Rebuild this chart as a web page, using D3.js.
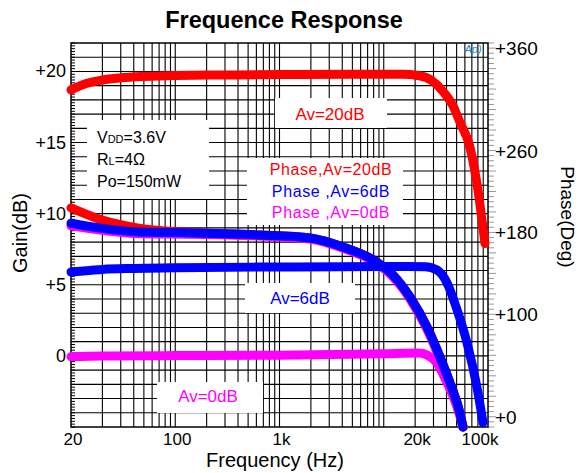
<!DOCTYPE html>
<html>
<head>
<meta charset="utf-8">
<script src="https://cdn.jsdelivr.net/npm/d3@7"></script>
<style>
  body { margin: 0; background: #fff; }
  svg { font-family: "Liberation Sans", Arial, sans-serif; }
</style>
</head>
<body>
<svg id="chart" width="580" height="473"></svg>
<script>
// frequency axis runs over 4 decades, the picture labels the left edge "20"
const freqTicks = [10, 100, 1000, 20000, 100000]
const freqTickLabels = ['20', '100', '1k', '20k', '100k']
const gainTicks = [20, 15, 10, 5, 0]
const gainTickLabels = ['+20', '+15', '+10', '+5', '0']
const phaseTicks = [360, 260, 180, 100, 0]
const phaseTickLabels = ['+360', '+260', '+180', '+100', '+0']

// gain curves (Hz, dB)
const redGainF = [10, 14, 20, 30, 50, 100, 300, 1000, 5000, 15000, 22000, 29000, 37000, 46000, 54000, 67000, 78000, 93500]
const redGainDb = [18.7, 19.15, 19.4, 19.55, 19.65, 19.72, 19.75, 19.78, 19.8, 19.8, 19.7, 19.35, 18.6, 17.6, 16.4, 14.7, 12.2, 7.9]
const blueGainF = [10, 15, 20, 40, 100, 1000, 10000, 25000, 32400, 40500, 50500, 63000, 78300, 89600]
const blueGainDb = [5.9, 6.0, 6.08, 6.15, 6.2, 6.25, 6.28, 6.27, 6.04, 5.13, 3.23, 0.9, -2.19, -4.7]
const magGainF = [10, 20, 100, 1000, 10000, 22000, 26000, 32400, 40500, 50500, 58000]
const magGainDb = [-0.05, 0.0, 0.02, 0.05, 0.15, 0.2, 0.06, -0.5, -1.9, -3.6, -5.0]

// phase curves (Hz, deg)
const phaseF = [10, 20, 46, 148, 650, 1960, 4070, 8610, 12270, 17850, 26000, 34650, 43250, 53800, 57500]
const redPhase = [204, 192, 184, 180, 177.5, 174.6, 165.8, 151, 138.4, 117, 87.7, 58.4, 33, 3.7, -10]
const bluePhase = [189, 184, 180.4, 179.5, 177.5, 174.6, 165.8, 151, 138.4, 117, 87.7, 58.4, 33, 3.7, -10]
const magPhase = [186.5, 182, 178.8, 178.3, 176.5, 173.5, 164.5, 149.5, 136.5, 115, 85.5, 56, 30.5, 1.5, -10]

const svg = d3.select('#chart')
const pLeft = 71, pRight = 488, pTop = 43, pBottom = 427

const x = d3.scaleLog().domain([10, 100000]).range([pLeft, pRight])
const yGain = d3.scaleLinear().domain([-5, 22]).range([pBottom, pTop])
const yPhase = d3.scaleLinear().domain([-10, 365]).range([pBottom, pTop])

// title
svg.append('text').attr('x', 284).attr('y', 28).attr('text-anchor', 'middle')
  .style('font-size', '23.5px').style('font-weight', 'bold').text('Frequence Response')

// grid
const grid = svg.append('g')
const vLines = []
for (let dec = 10; dec < 100000; dec *= 10) {
  for (let k = 1; k < 10; k++) vLines.push(dec * k)
}
grid.selectAll('line.v').data(vLines.filter(f => f > 10)).enter().append('line')
  .attr('x1', d => x(d)).attr('x2', d => x(d)).attr('y1', pTop).attr('y2', pBottom)
  .attr('stroke', '#000').attr('stroke-width', 1.1)
grid.selectAll('line.h').data(d3.range(-4, 22, 1)).enter().append('line')
  .attr('x1', pLeft).attr('x2', pRight).attr('y1', d => yGain(d)).attr('y2', d => yGain(d))
  .attr('stroke', '#000').attr('stroke-width', 1.1)

// left minor ticks (inside)
svg.append('g').selectAll('line').data(d3.range(-5, 22.01, 0.2)).enter().append('line')
  .attr('x1', pLeft).attr('x2', pLeft + 4).attr('y1', d => yGain(d)).attr('y2', d => yGain(d))
  .attr('stroke', '#000').attr('stroke-width', 1)

// right ticks (outside, grey)
svg.append('g').selectAll('line').data(d3.range(-10, 366, 5)).enter().append('line')
  .attr('x1', pRight).attr('x2', (d, i) => pRight + (i % 4 === 2 ? 8 : 6))
  .attr('y1', d => yPhase(d)).attr('y2', d => yPhase(d))
  .attr('stroke', '#9a9a9a').attr('stroke-width', 1)

// frame
svg.append('rect').attr('x', pLeft).attr('y', pTop).attr('width', pRight - pLeft).attr('height', pBottom - pTop)
  .attr('fill', 'none').attr('stroke', '#000').attr('stroke-width', 1.5)

// white label boxes over grid
const boxes = [
  [87, 120, 122, 79],
  [247, 158, 156, 67],
  [275, 98, 112, 30],
  [245, 283, 110, 30],
  [157, 382, 106, 31]
]
svg.append('g').selectAll('rect').data(boxes).enter().append('rect')
  .attr('x', d => d[0]).attr('y', d => d[1]).attr('width', d => d[2]).attr('height', d => d[3])
  .attr('fill', '#fff')

// curves
const line = (fs, vs, yScale) => d3.line().curve(d3.curveMonotoneX)
  .x(d => x(d[0])).y(d => yScale(d[1]))(d3.zip(fs, vs))

const curves = [
  [magGainF, magGainDb, yGain, '#ff00ff'],
  [phaseF, magPhase, yPhase, '#ff00ff'],
  [phaseF, redPhase, yPhase, '#ff0000'],
  [phaseF, bluePhase, yPhase, '#0000ff'],
  [blueGainF, blueGainDb, yGain, '#0000ff'],
  [redGainF, redGainDb, yGain, '#ff0000']
]
svg.append('g').selectAll('path').data(curves).enter().append('path')
  .attr('d', d => line(d[0], d[1], d[2]))
  .attr('fill', 'none').attr('stroke', d => d[3]).attr('stroke-width', 9)
  .attr('stroke-linecap', 'round').attr('stroke-linejoin', 'round')

// axis labels
svg.append('g').selectAll('text').data(gainTicks).enter().append('text')
  .attr('x', 66).attr('y', d => yGain(d) + 6).attr('text-anchor', 'end')
  .style('font-size', '18px').text((d, i) => gainTickLabels[i])
svg.append('g').selectAll('text').data(phaseTicks).enter().append('text')
  .attr('x', 495).attr('y', d => yPhase(d) + 7)
  .style('font-size', '19px').text((d, i) => phaseTickLabels[i])
svg.append('g').selectAll('text').data(freqTicks).enter().append('text')
  .attr('x', (d, i) => x(d) + (i === 4 ? -8 : 2)).attr('y', 445).attr('text-anchor', 'middle')
  .style('font-size', '17px').text((d, i) => freqTickLabels[i])

svg.append('text').attr('x', 275).attr('y', 467).attr('text-anchor', 'middle')
  .style('font-size', '20px').text('Frequency (Hz)')
svg.append('text').attr('transform', 'translate(27,233) rotate(-90)').attr('text-anchor', 'middle')
  .style('font-size', '20px').text('Gain(dB)')
svg.append('text').attr('transform', 'translate(561,217) rotate(90)').attr('text-anchor', 'middle')
  .style('font-size', '19px').text('Phase(Deg)')

// conditions
const cond = svg.append('g').style('font-size', '16px')
const t1 = cond.append('text').attr('x', 97).attr('y', 143)
t1.append('tspan').text('V')
t1.append('tspan').style('font-size', '11px').text('DD')
t1.append('tspan').text('=3.6V')
const t2 = cond.append('text').attr('x', 97).attr('y', 165)
t2.append('tspan').text('R')
t2.append('tspan').style('font-size', '11px').text('L')
t2.append('tspan').text('=4\u03a9')
cond.append('text').attr('x', 97).attr('y', 187).text('Po=150mW')

// legends
const legend = [
  ['Phase,Av=20dB', '#ff0000', 175],
  ['Phase ,Av=6dB', '#0000ff', 197],
  ['Phase ,Av=0dB', '#ff00ff', 218]
]
svg.append('g').selectAll('text').data(legend).enter().append('text')
  .attr('x', 331).attr('y', d => d[2]).attr('text-anchor', 'middle')
  .style('font-size', '16px').style('letter-spacing', '0.6px')
  .attr('fill', d => d[1]).text(d => d[0])

svg.append('text').attr('x', 330).attr('y', 120).attr('text-anchor', 'middle')
  .style('font-size', '17px').attr('fill', '#ff0000').text('Av=20dB')
svg.append('text').attr('x', 300).attr('y', 304).attr('text-anchor', 'middle')
  .style('font-size', '17px').attr('fill', '#0000ff').text('Av=6dB')
svg.append('text').attr('x', 208).attr('y', 402).attr('text-anchor', 'middle')
  .style('font-size', '17px').attr('fill', '#ff00ff').text('Av=0dB')

// AP logo
svg.append('text').attr('x', 473).attr('y', 53).attr('text-anchor', 'middle')
  .style('font-size', '11px').style('font-style', 'italic').attr('fill', '#2a86c8').text('Ap)')
</script>
</body>
</html>
